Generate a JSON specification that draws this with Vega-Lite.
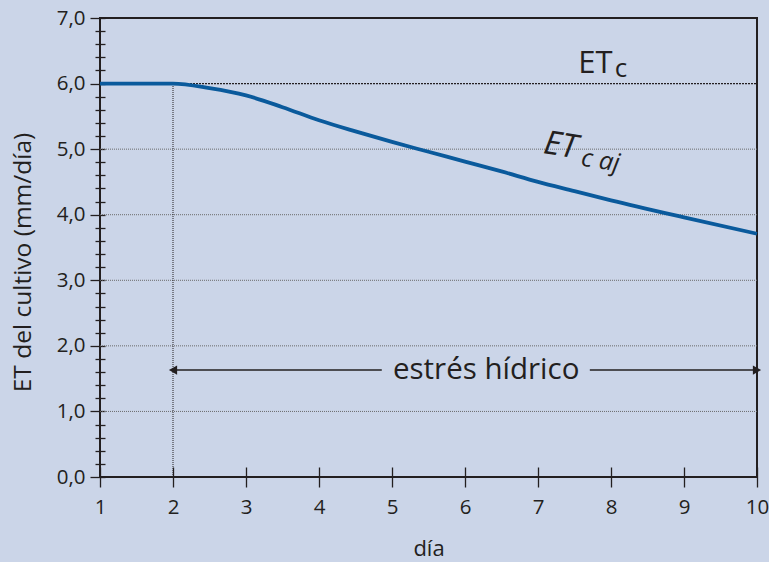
{
  "$schema": "https://vega.github.io/schema/vega-lite/v6.json",
  "width": 657,
  "height": 459,
  "autosize": {"type": "none"},
  "padding": {"left": 100, "top": 18, "right": 12, "bottom": 85},
  "background": "#cbd5e8",
  "config": {
    "view": {"stroke": "#231f20", "strokeWidth": 2, "fill": null},
    "font": "Open Sans",
    "text": {"font": "Open Sans", "color": "#231f20"}
  },
  "datasets": {
    "curve": [
      {"dia": 1, "et": 6.0},
      {"dia": 2, "et": 6.0},
      {"dia": 2.5, "et": 5.93},
      {"dia": 3, "et": 5.82},
      {"dia": 3.5, "et": 5.64},
      {"dia": 4, "et": 5.44},
      {"dia": 4.5, "et": 5.27},
      {"dia": 5, "et": 5.11},
      {"dia": 5.5, "et": 4.96},
      {"dia": 6, "et": 4.81},
      {"dia": 6.5, "et": 4.66},
      {"dia": 7, "et": 4.5},
      {"dia": 7.5, "et": 4.36},
      {"dia": 8, "et": 4.22},
      {"dia": 9, "et": 3.96},
      {"dia": 10, "et": 3.71}
    ],
    "grid": [{"dia": 1, "et": 1}, {"dia": 1, "et": 2}, {"dia": 1, "et": 3}, {"dia": 1, "et": 4}, {"dia": 1, "et": 5}],
    "arrow": [
      {"dia": 2, "dia2": 4.86, "et": 1.63},
      {"dia": 7.71, "dia2": 10, "et": 1.63}
    ],
    "heads": [
      {"dia": 2, "et": 1.63, "shape": "triangle-left"},
      {"dia": 10, "et": 1.63, "shape": "triangle-right"}
    ]
  },
  "encoding": {
    "x": {
      "field": "dia", "type": "quantitative",
      "scale": {"domain": [1, 10], "nice": false, "zero": false},
      "axis": {
        "values": [1, 2, 3, 4, 5, 6, 7, 8, 9, 10],
        "offset": -10,
        "domain": false,
        "grid": false,
        "tickSize": 20,
        "tickWidth": 1.3,
        "tickColor": "#231f20",
        "labelPadding": 10,
        "labelFontSize": 20.5,
        "labelFont": "Open Sans",
        "labelColor": "#231f20",
        "labelFlush": false,
        "title": "día",
        "titleFont": "Open Sans",
        "titleFontSize": 22,
        "titleFontWeight": "normal",
        "titleColor": "#231f20",
        "titlePadding": 21
      }
    },
    "y": {
      "field": "et", "type": "quantitative",
      "scale": {"domain": [0, 7], "nice": false, "zero": true},
      "axis": {
        "values": [0, 0.2, 0.4, 0.6, 0.8, 1, 1.2, 1.4, 1.6, 1.8, 2, 2.2, 2.4, 2.6, 2.8, 3, 3.2, 3.4, 3.6, 3.8, 4, 4.2, 4.4, 4.6, 4.8, 5, 5.2, 5.4, 5.6, 5.8, 6, 6.2, 6.4, 6.6, 6.8, 7],
        "labelExpr": "datum.value % 1 === 0 ? replace(format(datum.value, '.1f'), '.', ',') : ''",
        "offset": -5,
        "domain": false,
        "grid": false,
        "tickSize": {"condition": {"test": "datum.value % 1 === 0", "value": 15}, "value": 10},
        "tickWidth": 1.3,
        "tickColor": "#231f20",
        "labelPadding": 5,
        "labelOverlap": false,
        "labelFlush": false,
        "labelBound": false,
        "labelFontSize": 20.5,
        "labelFont": "Open Sans",
        "labelColor": "#231f20",
        "title": "ET del cultivo (mm/día)",
        "titleFont": "Open Sans",
        "titleFontSize": 24.5,
        "titleFontWeight": "normal",
        "titleColor": "#231f20",
        "titlePadding": 21,
        "titleY": 244
      }
    }
  },
  "layer": [
    {
      "data": {"name": "grid"},
      "mark": {"type": "rule", "color": "#6a6a6a", "strokeWidth": 1, "strokeDash": [1, 1]},
      "encoding": {"x": {"datum": 1}, "x2": {"datum": 10}}
    },
    {
      "data": {"values": [{"dia": 1, "et": 6}]},
      "mark": {"type": "rule", "color": "#231f20", "strokeWidth": 1.2, "strokeDash": [2, 1]},
      "encoding": {"x": {"datum": 1}, "x2": {"datum": 10}}
    },
    {
      "data": {"values": [{"dia": 2, "et": 0, "et2": 6}]},
      "mark": {"type": "rule", "color": "#231f20", "strokeWidth": 1, "strokeDash": [1, 1]},
      "encoding": {"y2": {"field": "et2"}}
    },
    {
      "data": {"name": "curve"},
      "mark": {"type": "line", "color": "#0a5a9c", "strokeWidth": 3.8, "interpolate": "monotone", "clip": false}
    },
    {
      "data": {"name": "arrow"},
      "mark": {"type": "rule", "color": "#231f20", "strokeWidth": 1.5},
      "encoding": {"x2": {"field": "dia2"}}
    },
    {
      "data": {"name": "heads"},
      "mark": {"type": "point", "filled": true, "color": "#231f20", "opacity": 1, "size": 90},
      "encoding": {
        "shape": {"field": "shape", "type": "nominal", "scale": null, "legend": null}
      }
    },
    {
      "data": {"values": [{"t": "estrés hídrico", "dia": 6.29, "et": 1.63}]},
      "mark": {"type": "text", "fontSize": 29.5, "align": "center", "baseline": "alphabetic", "dy": 9},
      "encoding": {"text": {"field": "t"}}
    },
    {
      "data": {"values": [{"t": "ET", "dia": 7.55, "et": 6.16}]},
      "mark": {"type": "text", "fontSize": 31, "align": "left", "baseline": "alphabetic"},
      "encoding": {"text": {"field": "t"}}
    },
    {
      "data": {"values": [{"t": "c", "dia": 8.05, "et": 6.1}]},
      "mark": {"type": "text", "fontSize": 26, "align": "left", "baseline": "alphabetic"},
      "encoding": {"text": {"field": "t"}}
    },
    {
      "data": {"values": [{"t": "ET", "dia": 7.06, "et": 4.94}]},
      "mark": {"type": "text", "fontSize": 33, "fontStyle": "italic", "align": "left", "baseline": "alphabetic", "angle": 9},
      "encoding": {"text": {"field": "t"}}
    },
    {
      "data": {"values": [{"t": "c aj", "dia": 7.58, "et": 4.75}]},
      "mark": {"type": "text", "fontSize": 25, "fontStyle": "italic", "align": "left", "baseline": "alphabetic", "angle": 9},
      "encoding": {"text": {"field": "t"}}
    }
  ]
}
